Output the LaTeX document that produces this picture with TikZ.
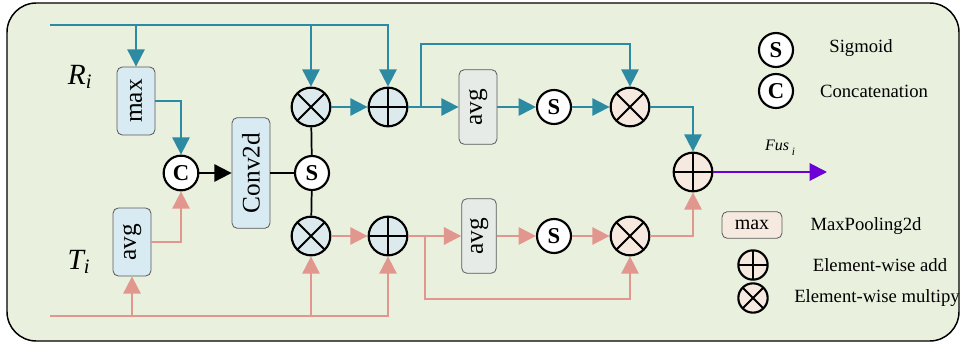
\documentclass[tikz,border=0pt]{standalone}
\usepackage{fontspec}
\setmainfont{Liberation Serif}
\usepackage{xcolor}
\definecolor{panelgreen}{HTML}{E9F0DE}
\definecolor{flowblue}{HTML}{2C8AA2}
\definecolor{flowpink}{HTML}{E2978E}
\definecolor{fuspurple}{HTML}{6C00D6}
\definecolor{boxblue}{HTML}{D9EBF2}
\definecolor{boxgrey}{HTML}{E6EBE7}
\definecolor{opblue}{HTML}{DCEAEE}
\definecolor{oppeach}{HTML}{F6E9DF}
\usepackage{tikz}
\usetikzlibrary{positioning,arrows.meta,calc}

\begin{document}
\begin{tikzpicture}[
      x=0.75pt, y=-0.75pt,
      >={Triangle[length=13pt,width=13pt]},
      flow/.style={line width=1.5pt},
      opbox/.style={rectangle, draw=black!65, line width=0.6pt, rounded corners=4pt,
                    fill=boxblue, minimum width=28.5pt, minimum height=51pt, inner sep=0pt,
                    font=\fontsize{19}{19}\selectfont},
      circ/.style={circle, draw=black, line width=1.6pt, inner sep=0pt},
      signode/.style={circ, fill=white, minimum size=25.5pt, font=\fontsize{17}{17}\selectfont\bfseries},
      mulop/.style={circ, minimum size=29pt,
                    path picture={\draw[line width=1.4pt]
                      (path picture bounding box.north west) -- (path picture bounding box.south east)
                      (path picture bounding box.south west) -- (path picture bounding box.north east);}},
      addop/.style={circ, minimum size=29pt,
                    path picture={\draw[line width=1.4pt]
                      (path picture bounding box.north) -- (path picture bounding box.south)
                      (path picture bounding box.west) -- (path picture bounding box.east);}},
      legtxt/.style={font=\fontsize{14}{14}\selectfont, inner sep=1pt},
      sidelbl/.style={font=\fontsize{22}{22}\selectfont\itshape, inner sep=1pt},
    ]
    \fill[white] (0,0) rectangle (964,346);
    \draw[line width=1.1pt, fill=panelgreen, rounded corners=22pt] (7,3) rectangle (959,341);

    \node[sidelbl] (rlbl) at (80,77) {R\textsubscript{i}};
    \node[sidelbl] (tlbl) at (79,262) {T\textsubscript{i}};

    \node[opbox] (rmax) at (136,101) {\rotatebox{90}{max}};
    \node[opbox] (tavg) at (132,242) {\rotatebox{90}{avg}};
    \node[signode, minimum size=26pt] (cat) at (181,173) {C};
    \node[opbox, minimum height=83pt] (conv) at (251,173) {\rotatebox{90}{Conv2d}};
    \node[signode] (sg) at (312,173) {S};
    \node[mulop, fill=opblue] (mulU) at (311,107) {};
    \node[mulop, fill=opblue] (mulL) at (311,236) {};
    \node[addop, fill=opblue] (addU) at (388,107) {};
    \node[addop, fill=opblue] (addL) at (388,236) {};
    \node[opbox, fill=boxgrey, minimum height=56pt] (avgU) at (478,107) {\rotatebox{90}{avg}};
    \node[opbox, fill=boxgrey, minimum height=56pt, minimum width=26pt] (avgL) at (479,236) {\rotatebox{90}{avg}};
    \node[signode] (sgU) at (554,107) {S};
    \node[signode] (sgL) at (554,236) {S};
    \node[mulop, fill=oppeach] (mulU2) at (630,107) {};
    \node[mulop, fill=oppeach] (mulL2) at (630,236) {};
    \node[addop, fill=oppeach] (addR) at (693,172) {};
    \node[font=\fontsize{12}{12}\selectfont\itshape] (fuslbl) at (780,148)
      {Fus\,\raisebox{-4pt}{\fontsize{8.5}{8.5}\selectfont i}};

    \node[signode] (lgS) at (776,50) {S};
    \node[legtxt] (lgStxt) at (861,48) {Sigmoid};
    \node[signode] (lgC) at (776,91) {C};
    \node[legtxt] (lgCtxt) at (874,91) {Concatenation};
    \node[opbox, fill=oppeach, minimum width=45pt, minimum height=20pt,
          font=\fontsize{15}{15}\selectfont] (lgmax) at (752,225) {max};
    \node[legtxt] (lgmaxtxt) at (866,226) {MaxPooling2d};
    \node[addop, fill=oppeach, minimum size=22pt] (lgadd) at (753,265) {};
    \node[legtxt] (lgaddtxt) at (880,265) {Element-wise add};
    \node[mulop, fill=oppeach, minimum size=22pt] (lgmul) at (753,298) {};
    \node[legtxt] (lgmultxt) at (877,298) {Element-wise multipy};

    \coordinate (rin) at (50,25);
    \coordinate (tin) at (50,316);
    \coordinate (bu) at (421,107);
    \coordinate (bu2) at (421,44);
    \coordinate (bl) at (425,236);
    \coordinate (bl2) at (425,299);
    \coordinate (fus) at (827,172);

    \draw[->, flow, flowblue] (rin) -| (addU);
    \draw[->, flow, flowblue] (rin -| rmax) -- (rmax);
    \draw[->, flow, flowblue] (rin -| mulU) -- (mulU);
    \draw[->, flow, flowblue] (rmax.east) -| (cat);
    \draw[->, flow, flowblue] (mulU) -- (addU);
    \draw[->, flow, flowblue] (addU) -- (avgU);
    \draw[->, flow, flowblue] (bu) -- (bu2) -| (mulU2);
    \draw[->, flow, flowblue] (avgU) -- (sgU);
    \draw[->, flow, flowblue] (sgU) -- (mulU2);
    \draw[->, flow, flowblue] (mulU2) -| (addR);

    \draw[->, flow, flowpink] (tin) -| (addL);
    \draw[->, flow, flowpink] (tin -| tavg) -- (tavg);
    \draw[->, flow, flowpink] (tin -| mulL) -- (mulL);
    \draw[->, flow, flowpink] (tavg.east) -| (cat);
    \draw[->, flow, flowpink] (mulL) -- (addL);
    \draw[->, flow, flowpink] (addL) -- (avgL);
    \draw[->, flow, flowpink] (bl) -- (bl2) -| (mulL2);
    \draw[->, flow, flowpink] (avgL) -- (sgL);
    \draw[->, flow, flowpink] (sgL) -- (mulL2);
    \draw[->, flow, flowpink] (mulL2) -| (addR);

    \draw[->, flow, black] (cat) -- (conv);
    \draw[line width=1.3pt] (conv) -- (sg);
    \draw[line width=1.3pt] (sg) -- (mulU);
    \draw[line width=1.3pt] (sg) -- (mulL);
    \draw[->, flow, fuspurple] (addR) -- (fus);
  \end{tikzpicture}
\end{document}
